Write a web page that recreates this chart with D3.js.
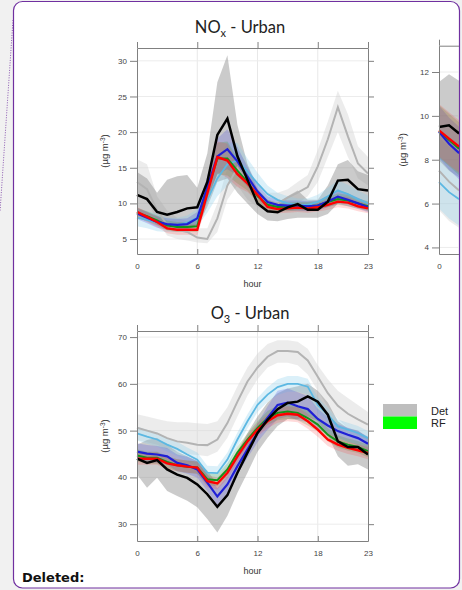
<!DOCTYPE html>
<html>
<head>
<meta charset="utf-8">
<script src="https://cdn.jsdelivr.net/npm/d3@7"></script>
<style>
  html, body { margin: 0; padding: 0; background: #f1f1f1; }
  svg { display: block; }
  .tick text { font-family: "Liberation Sans", Arial, sans-serif; font-size: 8px; fill: #444; }
  .tick line, .domain { stroke: #808080; }
</style>
</head>
<body>
<svg id="chart" width="462" height="590"></svg>
<script>
// ---------- hours ----------
const hours = d3.range(0, 24);
const hourTicks = [0, 6, 12, 18, 23];

// ---------- NOx (urban) diurnal cycle, µg m-3 ----------
const noxTicks = [5, 10, 15, 20, 25, 30];
const noxDet      = [13.0, 12.0, 9.0, 7.0, 6.3, 6.0, 5.2, 5.0, 7.9, 12.5, 15.0, 13.0, 10.8, 10.2, 10.0, 10.8, 11.5, 12.3, 15.2, 19.0, 23.5, 19.4, 15.6, 14.2];
const noxDetLo    = [11.5, 10.5, 7.5, 5.5, 5.0, 4.8, 4.5, 4.4, 6.0, 10.5, 12.5, 10.5, 9.5, 9.0, 9.0, 9.5, 10.0, 11.0, 13.0, 16.5, 20.0, 16.5, 13.5, 12.5];
const noxDetHi    = [16.2, 15.5, 11.0, 9.0, 8.0, 7.5, 6.5, 6.5, 10.0, 15.0, 17.5, 15.5, 12.5, 11.5, 11.5, 12.0, 13.0, 14.0, 17.5, 21.5, 25.8, 22.5, 18.0, 16.5];
const noxObs      = [11.2, 10.6, 8.8, 8.4, 8.8, 9.3, 9.45, 13.0, 19.6, 21.9, 16.6, 13.3, 10.0, 8.9, 8.75, 9.45, 9.9, 9.1, 9.1, 10.25, 13.2, 13.3, 12.0, 11.8];
const noxObsLo    = [8.5, 8.0, 7.0, 6.5, 6.5, 6.5, 6.8, 9.5, 13.0, 13.5, 11.5, 10.0, 8.5, 7.6, 7.5, 7.8, 8.0, 8.0, 8.0, 8.5, 10.0, 10.5, 10.0, 9.5];
const noxObsHi    = [14.4, 13.5, 11.5, 13.3, 13.8, 14.0, 12.2, 17.0, 27.0, 30.8, 21.0, 15.5, 12.0, 10.5, 10.0, 11.0, 11.8, 10.5, 10.5, 12.5, 15.5, 16.1, 14.5, 14.0];
const noxSky      = [8.0, 7.7, 7.3, 7.0, 7.0, 7.3, 8.0, 10.5, 13.5, 15.5, 16.0, 14.5, 12.8, 11.3, 10.5, 10.0, 9.8, 9.8, 10.2, 11.0, 11.8, 11.3, 10.6, 10.0];
const noxSkySd    = [1.2, 1.2, 1.2, 1.0, 1.0, 1.0, 1.2, 1.8, 2.5, 3.0, 2.5, 1.8, 1.5, 1.2, 1.0, 1.0, 0.9, 0.9, 1.0, 1.2, 1.4, 1.3, 1.2, 1.1];
const noxBlue     = [8.6, 8.0, 7.4, 7.1, 7.0, 7.1, 7.9, 12.3, 16.6, 17.6, 15.9, 13.75, 11.65, 10.2, 9.8, 9.7, 9.7, 9.6, 9.7, 10.25, 10.95, 10.5, 10.0, 9.45];
const noxBlueSd   = [0.8, 0.8, 0.8, 0.8, 0.8, 0.8, 0.9, 1.5, 2.5, 2.8, 2.0, 1.4, 1.0, 0.8, 0.7, 0.7, 0.7, 0.7, 0.7, 0.8, 1.0, 0.9, 0.8, 0.7];
const noxGreen    = [8.7, 8.2, 7.6, 6.9, 6.7, 6.7, 6.8, 11.8, 16.3, 16.3, 14.6, 13.0, 11.0, 9.8, 9.5, 9.5, 9.6, 9.6, 9.7, 10.2, 10.6, 10.4, 10.0, 9.6];
const noxGreenSd  = [0.7, 0.7, 0.7, 0.7, 0.7, 0.7, 0.8, 1.3, 2.2, 2.4, 1.8, 1.2, 0.9, 0.7, 0.6, 0.6, 0.6, 0.6, 0.6, 0.7, 0.8, 0.8, 0.7, 0.7];
const noxRed      = [8.8, 8.1, 7.4, 6.5, 6.3, 6.3, 6.3, 11.4, 16.5, 16.0, 14.1, 12.8, 11.2, 9.5, 9.2, 9.3, 9.4, 9.3, 9.45, 9.8, 10.25, 10.1, 9.6, 9.3];
const noxRedSd    = [0.7, 0.7, 0.7, 0.7, 0.7, 0.7, 0.8, 1.3, 2.2, 2.4, 1.8, 1.2, 0.9, 0.7, 0.6, 0.6, 0.6, 0.6, 0.6, 0.7, 0.8, 0.8, 0.7, 0.7];

// ---------- neighbouring panel (first hours only, cut by the page edge) ----------
const sideHours   = [0, 1, 2];
const sideHourTicks = [0];
const sideTicks   = [4, 6, 8, 10, 12];
const sideDet     = [7.5, 7.0, 6.6];
const sideDetLo   = [5.7, 5.2, 4.9];
const sideDetHi   = [9.0, 8.6, 8.2];
const sideObs     = [9.49, 9.57, 9.2];
const sideObsLo   = [7.97, 7.5, 7.2];
const sideObsHi   = [11.54, 11.9, 11.6];
const sideSky     = [6.98, 6.52, 6.2];
const sideBlue    = [9.27, 8.73, 8.3];
const sideGreen   = [9.3, 8.9, 8.5];
const sideRed     = [9.34, 8.96, 8.6];
const sideSd      = [1.2, 1.2, 1.2];

// ---------- O3 (urban) diurnal cycle, µg m-3 ----------
const o3Ticks = [30, 40, 50, 60, 70];
const o3Det      = [50.6, 50.0, 49.4, 48.4, 47.7, 47.4, 47.0, 46.9, 48.1, 51.6, 56.2, 60.5, 63.5, 65.8, 67.0, 67.0, 66.8, 65.0, 61.5, 58.0, 55.3, 53.6, 52.4, 51.3];
const o3DetLo    = [48.0, 47.5, 47.0, 46.0, 45.5, 45.0, 44.8, 44.5, 45.5, 48.5, 53.0, 57.5, 61.0, 63.5, 64.5, 64.5, 64.0, 62.0, 58.5, 55.0, 52.5, 50.5, 49.0, 48.0];
const o3DetHi    = [53.5, 53.0, 52.5, 52.0, 51.8, 51.8, 51.6, 51.4, 52.0, 55.0, 59.5, 63.5, 66.5, 68.5, 69.3, 69.3, 69.0, 67.5, 64.0, 61.0, 58.5, 57.0, 55.5, 54.0];
const o3Obs      = [44.0, 43.1, 43.7, 41.7, 40.6, 39.9, 38.5, 36.4, 33.7, 36.2, 41.0, 45.3, 49.5, 52.3, 54.6, 55.9, 56.2, 57.3, 56.2, 53.4, 47.7, 46.5, 46.5, 44.9];
const o3ObsLo    = [40.6, 37.8, 39.9, 37.1, 36.0, 35.0, 33.6, 31.1, 28.2, 31.8, 36.7, 41.0, 45.5, 48.5, 51.0, 52.5, 52.5, 53.0, 52.0, 49.0, 44.5, 42.5, 42.8, 41.7];
const o3ObsHi    = [47.0, 48.0, 48.4, 47.0, 45.5, 44.5, 43.5, 41.5, 38.5, 41.0, 45.5, 49.5, 53.0, 56.0, 58.0, 59.0, 59.5, 60.0, 58.5, 56.0, 52.0, 50.5, 50.0, 48.5];
const o3Sky      = [49.4, 48.7, 48.1, 47.0, 46.1, 44.9, 43.8, 41.0, 40.9, 43.8, 48.1, 52.0, 55.5, 57.7, 59.3, 60.0, 60.0, 59.4, 55.5, 53.4, 50.9, 50.2, 49.5, 48.4];
const o3SkySd    = [1.5, 1.5, 1.5, 1.5, 1.5, 1.5, 1.5, 1.5, 1.5, 1.5, 1.5, 1.5, 1.5, 1.6, 1.7, 1.7, 1.7, 1.7, 1.6, 1.5, 1.5, 1.5, 1.5, 1.5];
const o3Blue     = [45.5, 45.1, 44.9, 44.5, 43.1, 42.6, 41.7, 38.9, 35.9, 38.5, 42.4, 46.0, 49.5, 52.7, 55.5, 56.0, 55.2, 54.6, 52.5, 51.1, 49.9, 49.1, 48.4, 47.2];
const o3BlueSd   = [1.8, 1.8, 1.8, 1.8, 1.8, 1.8, 1.8, 1.8, 1.8, 1.8, 1.8, 1.8, 2.0, 2.5, 3.0, 3.0, 3.0, 2.8, 2.2, 1.8, 1.5, 1.5, 1.5, 1.5];
const o3Green    = [44.7, 44.2, 44.2, 43.3, 42.6, 42.3, 42.1, 39.6, 39.4, 41.7, 45.3, 48.1, 50.6, 52.7, 53.8, 54.1, 53.8, 52.7, 51.3, 49.1, 47.7, 47.0, 46.5, 45.6];
const o3GreenSd  = [1.3, 1.3, 1.3, 1.3, 1.3, 1.3, 1.3, 1.3, 1.3, 1.3, 1.3, 1.3, 1.4, 1.5, 1.6, 1.6, 1.6, 1.6, 1.5, 1.4, 1.3, 1.3, 1.3, 1.3];
const o3Red      = [44.0, 44.0, 44.0, 43.0, 42.6, 42.3, 42.1, 39.2, 38.7, 41.0, 44.5, 47.7, 50.2, 52.0, 53.3, 53.6, 53.4, 52.0, 50.2, 48.1, 47.0, 46.3, 45.8, 45.2];
const o3RedSd    = [1.3, 1.3, 1.3, 1.3, 1.3, 1.3, 1.3, 1.3, 1.3, 1.3, 1.3, 1.3, 1.4, 1.5, 1.6, 1.6, 1.6, 1.6, 1.5, 1.4, 1.3, 1.3, 1.3, 1.3];

// ---------- legend ----------
const legendLabels = ["Det", "RF"];
const legendColors = ["#bebebe", "#00ff00"];

// ---------- colours ----------
const C = {
  det:   { line: "#b3b3b3", band: "#d4d4d4", op: 0.45 },
  obs:   { line: "#000000", band: "#8c8c8c", op: 0.45 },
  sky:   { line: "#5cb8e2", band: "#87ceeb", op: 0.3 },
  blue:  { line: "#1f1fd6", band: "#3a3ae0", op: 0.22 },
  green: { line: "#12941a", band: "#3a9a2a", op: 0.22 },
  red:   { line: "#ff0000", band: "#ff3030", op: 0.18 }
};

const svg = d3.select("#chart");

// page and note box
svg.append("rect").attr("x", 0).attr("y", 0).attr("width", 462).attr("height", 590).attr("fill", "#f1f1f1");
svg.append("line").attr("x1", 13).attr("y1", 20).attr("x2", 0).attr("y2", 212)
  .attr("stroke", "#7030a0").attr("stroke-width", 0.8).attr("stroke-dasharray", "1,1.5");
svg.append("rect").attr("x", 13.5).attr("y", 1.5).attr("width", 446).attr("height", 586.5)
  .attr("rx", 9).attr("fill", "#ffffff").attr("stroke", "#7030a0").attr("stroke-width", 1.2);

const clip = svg.append("defs").append("clipPath").attr("id", "boxclip");
clip.append("rect").attr("x", 14).attr("y", 2).attr("width", 445).attr("height", 585);

const root = svg.append("g").attr("clip-path", "url(#boxclip)");

function panel(cfg) {
  const x = d3.scaleLinear().domain([0, 23]).range(cfg.xr);
  const y = d3.scaleLinear().domain(cfg.yd).range(cfg.yr);
  const g = root.append("g");
  const [x0, x1] = cfg.xr, [yb, yt] = cfg.yr;
  const xt = cfg.xTicks;

  // grid
  g.append("g").selectAll("line").data(xt.filter(d => d > 0 && d < 23)).join("line")
    .attr("x1", d => x(d)).attr("x2", d => x(d)).attr("y1", yt).attr("y2", yb)
    .attr("stroke", "#e8e8e8").attr("stroke-width", 1);
  g.append("g").selectAll("line").data(cfg.yTicks).join("line")
    .attr("x1", x0).attr("x2", x1).attr("y1", d => y(d)).attr("y2", d => y(d))
    .attr("stroke", "#ececec").attr("stroke-width", 1);

  const plot = g.append("g");
  const hrs = cfg.hrs;

  function band(lo, hi, col) {
    const a = d3.area().x((d, i) => x(hrs[i])).y0((d, i) => y(lo[i])).y1((d, i) => y(hi[i]));
    plot.append("path").datum(lo).attr("d", a).attr("fill", col.band).attr("fill-opacity", col.op);
  }
  function sdBand(mid, sd, col) {
    band(mid.map((v, i) => v - sd[i]), mid.map((v, i) => v + sd[i]), col);
  }
  function line(vals, col, w) {
    const l = d3.line().x((d, i) => x(hrs[i])).y(d => y(d));
    plot.append("path").datum(vals).attr("d", l).attr("fill", "none")
      .attr("stroke", col.line).attr("stroke-width", w).attr("stroke-linejoin", "miter");
  }
  const s = cfg.s;
  band(s.detLo, s.detHi, C.det);
  band(s.obsLo, s.obsHi, C.obs);
  sdBand(s.sky, s.skySd, C.sky);
  sdBand(s.blue, s.blueSd, C.blue);
  sdBand(s.green, s.greenSd, C.green);
  sdBand(s.red, s.redSd, C.red);
  line(s.det, C.det, 2);
  line(s.sky, C.sky, 1.8);
  line(s.green, C.green, 2);
  line(s.blue, C.blue, 2.2);
  line(s.red, C.red, 2.4);
  line(s.obs, C.obs, 2.5);

  // frame and axes
  g.append("g").attr("transform", `translate(0,${yb})`)
    .call(d3.axisBottom(x).tickValues(xt).tickSizeInner(-5).tickSizeOuter(0).tickPadding(9));
  g.append("g").attr("transform", `translate(0,${yt})`)
    .call(d3.axisTop(x).tickValues(xt).tickSizeInner(6).tickSizeOuter(0).tickFormat(""));
  g.append("g").attr("transform", `translate(${x0},0)`)
    .call(d3.axisLeft(y).tickValues(cfg.yTicks).tickSizeInner(7).tickSizeOuter(0).tickPadding(3));
  if (cfg.rightAxis) {
    g.append("g").attr("transform", `translate(${x1},0)`)
      .call(d3.axisRight(y).tickValues(cfg.yTicks).tickSizeInner(6).tickSizeOuter(0).tickFormat(""));
  }
  g.selectAll(".domain").attr("stroke", "#808080");

  // y label
  const yl = g.append("text")
    .attr("transform", `translate(${cfg.ylx},${(yb + yt) / 2}) rotate(-90)`)
    .attr("text-anchor", "middle")
    .attr("font-family", "Liberation Sans, Arial, sans-serif").attr("font-size", 9.5).attr("fill", "#333");
  yl.append("tspan").text("(µg m");
  yl.append("tspan").attr("dy", -3.5).attr("font-size", 6.5).text("-3");
  yl.append("tspan").attr("dy", 3.5).text(")");

  if (cfg.xlabel) {
    g.append("text").attr("x", (x0 + x1) / 2).attr("y", yb + 33).attr("text-anchor", "middle")
      .attr("font-family", "Liberation Sans, Arial, sans-serif").attr("font-size", 9).attr("fill", "#333")
      .text("hour");
  }
  if (cfg.title) {
    const t = g.append("text").attr("x", cfg.title.x).attr("y", cfg.title.y).attr("text-anchor", "middle")
      .attr("font-family", "Lato, Carlito, sans-serif").attr("font-size", 16.5).attr("fill", "#222");
    t.append("tspan").text(cfg.title.main);
    t.append("tspan").attr("dy", 4).attr("font-size", 11).text(cfg.title.sub);
    t.append("tspan").attr("dy", -4).text(" - Urban");
  }
}

panel({
  xr: [137, 368], yr: [254, 48], yd: [2.9, 31.8], yTicks: noxTicks, xTicks: hourTicks, hrs: hours, ylx: 108,
  xlabel: true, rightAxis: true, title: { x: 240, y: 33, main: "NO", sub: "x" },
  s: { det: noxDet, detLo: noxDetLo, detHi: noxDetHi, obs: noxObs, obsLo: noxObsLo, obsHi: noxObsHi,
       sky: noxSky, skySd: noxSkySd, blue: noxBlue, blueSd: noxBlueSd,
       green: noxGreen, greenSd: noxGreenSd, red: noxRed, redSd: noxRedSd }
});

panel({
  xr: [439, 670], yr: [254, 45.7], yd: [3.7, 13.2], yTicks: sideTicks, xTicks: sideHourTicks, hrs: sideHours, ylx: 406,
  xlabel: false, rightAxis: false, title: null,
  s: { det: sideDet, detLo: sideDetLo, detHi: sideDetHi, obs: sideObs, obsLo: sideObsLo, obsHi: sideObsHi,
       sky: sideSky, skySd: sideSd, blue: sideBlue, blueSd: sideSd,
       green: sideGreen, greenSd: sideSd, red: sideRed, redSd: sideSd }
});

panel({
  xr: [137, 368], yr: [541, 331], yd: [26.4, 71.3], yTicks: o3Ticks, xTicks: hourTicks, hrs: hours, ylx: 108,
  xlabel: true, rightAxis: true, title: { x: 250, y: 319, main: "O", sub: "3" },
  s: { det: o3Det, detLo: o3DetLo, detHi: o3DetHi, obs: o3Obs, obsLo: o3ObsLo, obsHi: o3ObsHi,
       sky: o3Sky, skySd: o3SkySd, blue: o3Blue, blueSd: o3BlueSd,
       green: o3Green, greenSd: o3GreenSd, red: o3Red, redSd: o3RedSd }
});

// legend
const lg = root.append("g");
const ly = d3.scaleBand().domain(legendLabels).range([404, 429]);
lg.selectAll("rect").data(legendLabels).join("rect")
  .attr("x", 383).attr("y", d => ly(d)).attr("width", 34).attr("height", ly.bandwidth())
  .attr("fill", (d, i) => legendColors[i]);
lg.selectAll("text").data(legendLabels).join("text")
  .attr("x", 431).attr("y", d => ly(d) + ly.bandwidth() - 2)
  .attr("font-family", "Liberation Sans, Arial, sans-serif").attr("font-size", 11).attr("fill", "#222")
  .text(d => d);

// note heading
root.append("text").attr("x", 22).attr("y", 582)
  .attr("font-family", "DejaVu Sans, Verdana, sans-serif").attr("font-weight", "bold")
  .attr("font-size", 13).attr("fill", "#111").text("Deleted:");
</script>
</body>
</html>
